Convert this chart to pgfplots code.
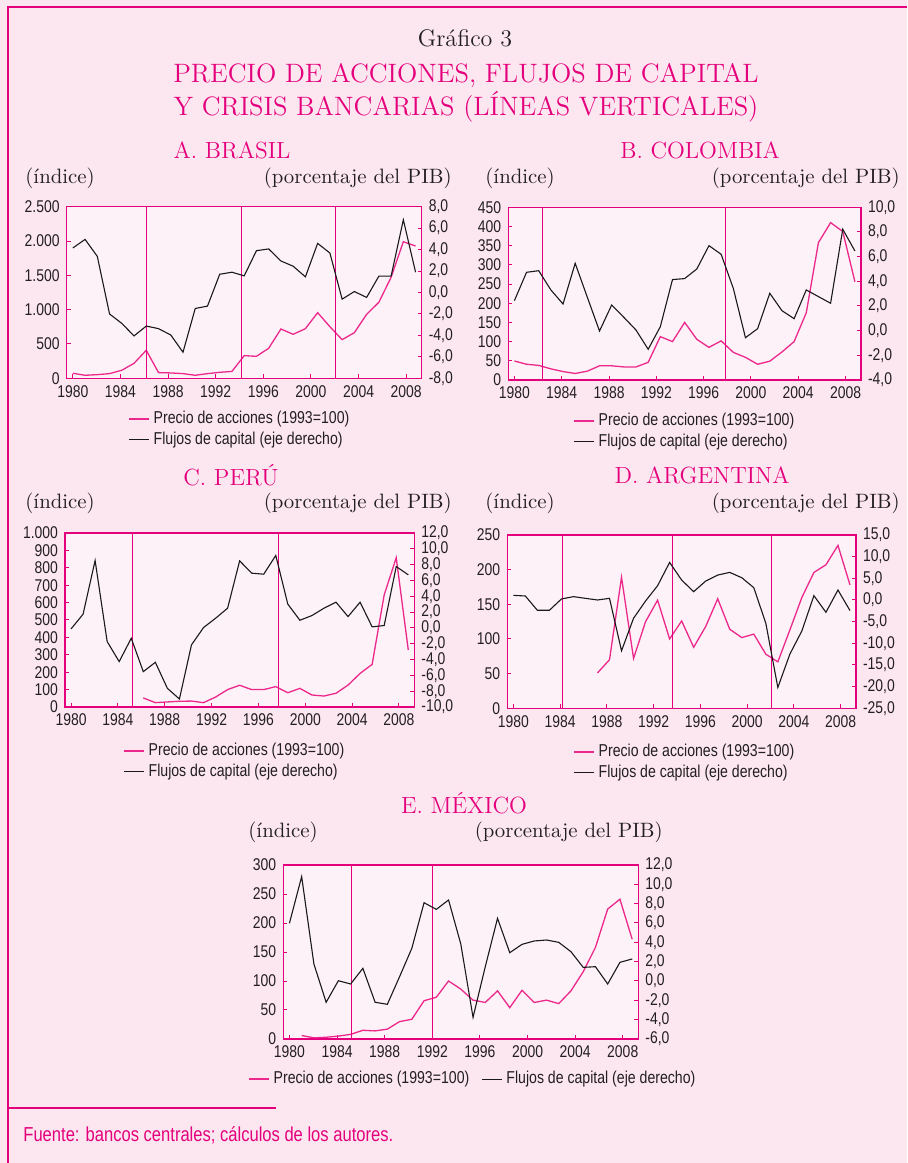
\documentclass[border=0pt]{standalone}
\usepackage{fontspec}
\setsansfont[FakeStretch=0.82]{Liberation Sans}
\usepackage{pgfplots}
\pgfplotsset{compat=1.18}
\definecolor{mag}{RGB}{228,0,124}
\definecolor{pinkl}{RGB}{236,40,140}
\definecolor{pagebg}{RGB}{252,231,240}
\definecolor{plotbg}{RGB}{253,242,247}
\definecolor{txt}{RGB}{35,31,32}
\definecolor{blk}{RGB}{25,25,25}
\newcommand\tickfont{\sffamily\fontsize{8.5}{10}\selectfont}
\newcommand\legfont{\sffamily\fontsize{8.6}{10}\selectfont}
\newcommand\unitfont{\fontsize{10.4}{12}\selectfont}
\newcommand\ptitle{\fontsize{11.7}{14}\selectfont}
\pgfplotsset{
 base/.style={scale only axis, xmin=1979.5, xmax=2008.5,
   xtick={1980,1983.89,1987.78,1991.67,1995.56,1999.45,2003.34,2007.23},
   xticklabels={1980,1984,1988,1992,1996,2000,2004,2008},
   ticklabel style={font=\tickfont, text=txt},
   tick align=inside, major tick length=2pt,
   tick style={mag, line width=0.5pt},
   axis line style={mag, line width=0.7pt},
   legend image code/.code={\draw[##1] (0pt,0pt) -- (10pt,0pt);},
   /pgf/number format/assume math mode=true},
 leftax/.style={base, xtick pos=bottom, ytick pos=left,
   axis background/.style={fill=plotbg},
   /pgf/number format/1000 sep={.}},
 rightax/.style={base, axis x line=none, axis y line*=right, ytick pos=right,
   /pgf/number format/fixed, /pgf/number format/fixed zerofill,
   /pgf/number format/precision=1, /pgf/number format/use comma},
 pk/.style={pinkl, line width=0.65pt},
 bk/.style={blk, line width=0.55pt},
 cr/.style={mag, line width=0.5pt, forget plot},
 leg/.style={legend style={at={#1}, anchor=north west, draw=none, fill=none,
   font=\legfont, text=txt, inner sep=0pt, row sep=0.5pt,
   nodes={inner sep=1pt},
   /tikz/every odd column/.append style={column sep=1pt}},
   legend cell align=left},
}
\begin{document}
\begin{tikzpicture}
\path[use as bounding box, fill=pagebg] (0,0) rectangle (453.5pt,581.5pt);
\draw[mag, line width=0.8pt] (4pt,0pt) -- (4pt,578pt) -- (453.5pt,578pt);
\draw[mag, line width=0.6pt] (4pt,27.5pt) -- (138pt,27.5pt);
% titles
\node[txt, font=\fontsize{12}{14}\selectfont\addfontfeature{LetterSpace=6}] at (232.5pt,562.5pt) {Gráfico 3};
\node[mag, font=\fontsize{13.3}{16}\selectfont] at (233pt,543.5pt) {PRECIO DE ACCIONES, FLUJOS DE CAPITAL};
\node[mag, font=\fontsize{13.3}{16}\selectfont] at (233pt,528pt) {Y CRISIS BANCARIAS (LÍNEAS VERTICALES)};
\node[mag, font=\ptitle] at (116pt,506.5pt) {A. BRASIL};
\node[mag, font=\ptitle] at (350pt,506.5pt) {B. COLOMBIA};
\node[mag, font=\ptitle] at (115.5pt,344pt) {C. PERÚ};
\node[mag, font=\ptitle] at (351pt,344pt) {D. ARGENTINA};
\node[mag, font=\ptitle] at (232pt,180pt) {E. MÉXICO};
\node[txt, font=\unitfont, anchor=west, inner sep=0pt] at (12.5pt,492.5pt) {(índice)};
\node[txt, font=\unitfont, anchor=east, inner sep=0pt] at (226pt,492.5pt) {(porcentaje del PIB)};
\node[txt, font=\unitfont, anchor=west, inner sep=0pt] at (242.5pt,492.5pt) {(índice)};
\node[txt, font=\unitfont, anchor=east, inner sep=0pt] at (450pt,492.5pt) {(porcentaje del PIB)};
\node[txt, font=\unitfont, anchor=west, inner sep=0pt] at (12.5pt,330pt) {(índice)};
\node[txt, font=\unitfont, anchor=east, inner sep=0pt] at (226pt,330pt) {(porcentaje del PIB)};
\node[txt, font=\unitfont, anchor=west, inner sep=0pt] at (242.5pt,330pt) {(índice)};
\node[txt, font=\unitfont, anchor=east, inner sep=0pt] at (450pt,330pt) {(porcentaje del PIB)};
\node[txt, font=\unitfont, anchor=west, inner sep=0pt] at (124pt,165.5pt) {(índice)};
\node[txt, font=\unitfont, anchor=east, inner sep=0pt] at (331.5pt,165.5pt) {(porcentaje del PIB)};
\node[mag, font=\sffamily\fontsize{10.1}{12}\selectfont, anchor=west, inner sep=0pt] at (11.5pt,14pt) {Fuente: bancos centrales; cálculos de los autores.};

% ---------- A. Brasil
\begin{axis}[leftax, at={(33.35pt,392.35pt)}, anchor=south west, width=177.5pt, height=85.8pt,
  ymin=0, ymax=2500, ytick={0,500,...,2500}]
\addplot[pk] coordinates {(1980,73)(1981,44)(1982,53)(1983,68)(1984,117)(1985,218)(1986,408)(1987,83)(1988,78)(1989,68)(1990,44)(1991,68)(1992,87)(1993,100)(1994,330)(1995,320)(1996,437)(1997,718)(1998,641)(1999,723)(2000,956)(2001,752)(2002,563)(2003,665)(2004,932)(2005,1107)(2006,1471)(2007,1990)(2008,1927)};
\addplot[cr] coordinates {(1986.05,0)(1986.05,2500)};
\addplot[cr] coordinates {(1993.79,0)(1993.79,2500)};
\addplot[cr] coordinates {(2001.49,0)(2001.49,2500)};
\end{axis}
\begin{axis}[rightax, at={(33.35pt,392.35pt)}, anchor=south west, width=177.5pt, height=85.8pt,
  ymin=-8, ymax=8, ytick={-8,-6,...,8}, leg={(0.1727,-0.179)}]
\addlegendimage{pk}\addlegendentry{Precio de acciones (1993=100)}
\addplot[bk] coordinates {(1980,4.15)(1981,4.95)(1982,3.37)(1983,-2.0)(1984,-2.88)(1985,-4.05)(1986,-3.13)(1987,-3.37)(1988,-3.96)(1989,-5.57)(1990,-1.49)(1991,-1.27)(1992,1.70)(1993,1.89)(1994,1.55)(1995,3.90)(1996,4.06)(1997,2.94)(1998,2.45)(1999,1.46)(2000,4.58)(2001,3.68)(2002,-0.62)(2003,0.09)(2004,-0.46)(2005,1.52)(2006,1.52)(2007,6.78)(2008,1.89)};
\addlegendentry{Flujos de capital (eje derecho)}
\end{axis}

% ---------- B. Colombia
\begin{axis}[leftax, at={(254.15pt,391.5pt)}, anchor=south west, width=176.35pt, height=86.35pt,
  ymin=0, ymax=450, ytick={0,50,...,450}]
\addplot[pk] coordinates {(1980,49.5)(1981,41)(1982,38)(1983,29)(1984,22)(1985,17)(1986,23)(1987,37)(1988,37)(1989,34)(1990,34)(1991,46)(1992,113)(1993,100)(1994,150)(1995,106)(1996,85)(1997,102)(1998,72)(1999,59)(2000,41)(2001,49)(2002,73)(2003,100)(2004,175)(2005,358)(2006,410)(2007,387)(2008,256)};
\addplot[cr] coordinates {(1982.32,0)(1982.32,450)};
\addplot[cr] coordinates {(1997.37,0)(1997.37,450)};
\end{axis}
\begin{axis}[rightax, at={(254.15pt,391.5pt)}, anchor=south west, width=176.35pt, height=86.35pt,
  ymin=-4, ymax=10, ytick={-4,-2,...,10}, leg={(0.1834,-0.1795)}]
\addlegendimage{pk}\addlegendentry{Precio de acciones (1993=100)}
\addplot[bk] coordinates {(1980,2.43)(1981,4.73)(1982,4.86)(1983,3.30)(1984,2.16)(1985,5.46)(1986,2.70)(1987,-0.03)(1988,2.08)(1989,1.08)(1990,0.05)(1991,-1.51)(1992,0.32)(1993,4.14)(1994,4.22)(1995,5.0)(1996,6.89)(1997,6.19)(1998,3.43)(1999,-0.57)(2000,0.16)(2001,3.03)(2002,1.62)(2003,0.97)(2004,3.30)(2005,2.76)(2006,2.22)(2007,8.22)(2008,6.46)};
\addlegendentry{Flujos de capital (eje derecho)}
\end{axis}

% ---------- C. Peru
\begin{axis}[leftax, at={(32.5pt,228pt)}, anchor=south west, width=174.65pt, height=87pt,
  ymin=0, ymax=1000, ytick={0,100,...,1000}]
\addplot[pk] coordinates {(1986,52)(1987,25)(1988,29)(1989,33)(1990,34)(1991,25)(1992,57)(1993,100)(1994,125)(1995,100)(1996,100)(1997,117)(1998,82)(1999,107)(2000,69)(2001,63)(2002,79)(2003,126)(2004,193)(2005,245)(2006,644)(2007,858)(2008,328)};
\addplot[cr] coordinates {(1985.09,0)(1985.09,1000)};
\addplot[cr] coordinates {(1997.26,0)(1997.26,1000)};
\end{axis}
\begin{axis}[rightax, at={(32.5pt,228pt)}, anchor=south west, width=174.65pt, height=87pt,
  ymin=-10, ymax=12, ytick={-10,-8,...,12}, leg={(0.166,-0.1954)}]
\addlegendimage{pk}\addlegendentry{Precio de acciones (1993=100)}
\addplot[bk] coordinates {(1980,-0.13)(1981,1.73)(1982,8.52)(1983,-1.73)(1984,-4.26)(1985,-1.31)(1986,-5.53)(1987,-4.35)(1988,-7.64)(1989,-8.99)(1990,-2.15)(1991,0.04)(1992,1.22)(1993,2.49)(1994,8.48)(1995,6.92)(1996,6.79)(1997,9.16)(1998,3.0)(1999,0.97)(2000,1.56)(2001,2.49)(2002,3.25)(2003,1.43)(2004,3.25)(2005,0.13)(2006,0.30)(2007,7.76)(2008,6.71)};
\addlegendentry{Flujos de capital (eje derecho)}
\end{axis}

% ---------- D. Argentina
\begin{axis}[leftax, at={(253.65pt,227.35pt)}, anchor=south west, width=174.35pt, height=86.65pt,
  ymin=0, ymax=250, ytick={0,50,...,250}]
\addplot[pk] coordinates {(1987,51)(1988,70)(1989,189)(1990,72)(1991,125)(1992,156)(1993,100)(1994,126)(1995,88)(1996,118)(1997,158)(1998,114)(1999,102)(2000,107)(2001,78)(2002,67)(2003,113)(2004,160)(2005,196)(2006,207)(2007,235)(2008,178)};
\addplot[cr] coordinates {(1984.05,0)(1984.05,250)};
\addplot[cr] coordinates {(1993.2,0)(1993.2,250)};
\addplot[cr] coordinates {(2001.46,0)(2001.46,250)};
\end{axis}
\begin{axis}[rightax, at={(253.65pt,227.35pt)}, anchor=south west, width=174.35pt, height=86.65pt,
  ymin=-25, ymax=15, ytick={-25,-20,...,15}, leg={(0.1884,-0.1945)}]
\addlegendimage{pk}\addlegendentry{Precio de acciones (1993=100)}
\addplot[bk] coordinates {(1980,1.07)(1981,0.92)(1982,-2.38)(1983,-2.38)(1984,0.23)(1985,0.77)(1986,0.38)(1987,0)(1988,0.38)(1989,-11.73)(1990,-4.22)(1991,-0.23)(1992,3.30)(1993,8.67)(1994,4.6)(1995,1.92)(1996,4.37)(1997,5.75)(1998,6.37)(1999,5.14)(2000,2.84)(2001,-5.37)(2002,-20.2)(2003,-12.5)(2004,-7.13)(2005,1.0)(2006,-2.84)(2007,2.3)(2008,-2.45)};
\addlegendentry{Flujos de capital (eje derecho)}
\end{axis}

% ---------- E. Mexico
\begin{axis}[leftax, at={(141.65pt,62pt)}, anchor=south west, width=177.5pt, height=87pt,
  ymin=0, ymax=300, ytick={0,50,...,300}]
\addplot[pk] coordinates {(1981,6)(1982,2)(1983,3)(1984,5)(1985,8)(1986,15)(1987,14)(1988,17)(1989,30)(1990,34)(1991,66)(1992,72)(1993,100)(1994,86)(1995,67)(1996,63)(1997,83)(1998,54)(1999,84)(2000,63)(2001,67)(2002,61)(2003,83)(2004,116)(2005,158)(2006,224)(2007,241)(2008,172)};
\addplot[cr] coordinates {(1985.05,0)(1985.05,300)};
\addplot[cr] coordinates {(1991.7,0)(1991.7,300)};
\end{axis}
\begin{axis}[rightax, at={(141.65pt,62pt)}, anchor=south west, width=177.5pt, height=87pt,
  ymin=-6, ymax=12, ytick={-6,-4,...,12}, leg={(-0.0994,-0.1724)}, legend columns=2,
  legend style={/tikz/every even column/.append style={column sep=5pt}}]
\addlegendimage{pk}\addlegendentry{Precio de acciones (1993=100)}
\addplot[bk] coordinates {(1980,5.97)(1981,10.8)(1982,1.76)(1983,-2.2)(1984,0.03)(1985,-0.31)(1986,1.31)(1987,-2.2)(1988,-2.41)(1989,0.45)(1990,3.38)(1991,8.1)(1992,7.41)(1993,8.38)(1994,3.83)(1995,-3.76)(1996,1.48)(1997,6.48)(1998,2.93)(1999,3.79)(2000,4.14)(2001,4.24)(2002,4.0)(2003,3.03)(2004,1.41)(2005,1.48)(2006,-0.31)(2007,1.93)(2008,2.28)};
\addlegendentry{Flujos de capital (eje derecho)}
\end{axis}
\end{tikzpicture}
\end{document}
